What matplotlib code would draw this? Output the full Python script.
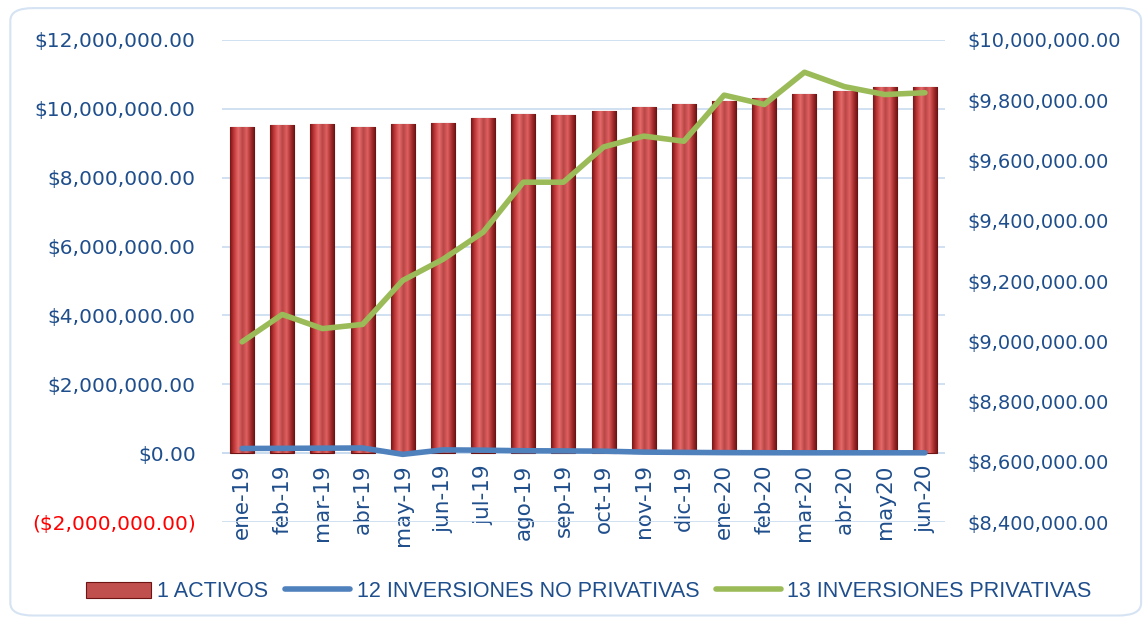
import numpy as np
import matplotlib
matplotlib.use("Agg")
import matplotlib.pyplot as plt
from matplotlib.colors import LinearSegmentedColormap
from matplotlib.patches import FancyBboxPatch
from matplotlib.ticker import FuncFormatter

meses = ['ene-19', 'feb-19', 'mar-19', 'abr-19', 'may-19', 'jun-19', 'jul-19', 'ago-19', 'sep-19',
         'oct-19', 'nov-19', 'dic-19', 'ene-20', 'feb-20', 'mar-20', 'abr-20', 'may20', 'jun-20']

activos = [9460000, 9540000, 9570000, 9480000, 9570000, 9590000, 9730000, 9860000, 9820000,
           9940000, 10060000, 10140000, 10230000, 10310000, 10430000, 10520000, 10640000, 10640000]

no_privativas = [136000, 140000, 145000, 150000, -35000, 95000, 87000, 70000, 65000,
                 58000, 30000, 22000, 15000, 12000, 10000, 10000, 10000, 10000]

privativas = [8998000, 9089000, 9042000, 9056000, 9202000, 9272000, 9362000, 9528000, 9528000,
              9645000, 9681000, 9664000, 9817000, 9786000, 9893000, 9845000, 9819000, 9825000]

txt_color = '#1f4e8c'
grid_color = '#c9dbf0'

plt.rcParams['font.family'] = ['DejaVu Sans']

fig = plt.figure(figsize=(11.48, 6.23), dpi=100)
ax = fig.add_axes([0.1934, 0.1621, 0.6298, 0.7737])
ax2 = ax.twinx()

# rounded chart border
fig.patches.append(FancyBboxPatch((0.009, 0.012), 0.985, 0.975, boxstyle='round,pad=0,rounding_size=0.02',
                                  transform=fig.transFigure, fill=False, edgecolor='#d5e3f3', linewidth=1.5))

x = np.arange(len(meses))
bars = ax.bar(x, activos, width=0.6, color='#c0504d', edgecolor='#6e1414', linewidth=0.8, zorder=2)

# cylinder-like shading on the bars
cmap = LinearSegmentedColormap.from_list('cil', ['#7a1515', '#c43c3c', '#e56a6a', '#b84545',
                                                 '#e06060', '#a93030', '#6a1010'])
grad = np.linspace(0, 1, 64).reshape(1, -1)
for b in bars:
    im = ax.imshow(grad, cmap=cmap, aspect='auto', zorder=2.1,
                   extent=[b.get_x(), b.get_x() + b.get_width(), 0, b.get_height()])
    im.set_clip_path(b)

l_np, = ax.plot(x, no_privativas, color='#4f81bd', linewidth=4, solid_capstyle='round', zorder=3)
l_p, = ax2.plot(x, privativas, color='#9bbb59', linewidth=4, solid_capstyle='round', zorder=3)

ax.set_xlim(-0.5, len(meses) - 0.5)
ax.set_ylim(-2000000, 12000000)
ax2.set_ylim(8400000, 10000000)

left_ticks = np.arange(-2000000, 12000001, 2000000)
right_ticks = np.arange(8400000, 10000001, 200000)
ax.set_yticks(left_ticks)
ax2.set_yticks(right_ticks)

def money(v, pos=None):
    if v < 0:
        return '(${:,.2f})'.format(-v)
    return '${:,.2f}'.format(v)

ax.yaxis.set_major_formatter(FuncFormatter(money))
ax2.yaxis.set_major_formatter(FuncFormatter(money))

ax.grid(axis='y', color=grid_color, linewidth=1.2, zorder=0)
ax.set_axisbelow(True)

for a in (ax, ax2):
    for s in ('left', 'right', 'top', 'bottom'):
        a.spines[s].set_visible(False)

ax.axhline(0, color=grid_color, linewidth=1.2, zorder=1)

# category labels sit just under the zero line
ax.spines['bottom'].set_position(('data', 0))
ax.set_xticks(x)
ax.set_xticklabels(meses)
ax.tick_params(axis='x', length=0, pad=8, labelsize=15.5, labelcolor=txt_color, labelrotation=90)

ax.tick_params(axis='y', length=0, pad=19, labelsize=14.5, labelcolor=txt_color)
ax2.tick_params(axis='y', length=0, pad=16, labelsize=14, labelcolor=txt_color)
ax2.tick_params(axis='x', length=0)

for t, v in zip(ax.get_yticklabels(), left_ticks):
    if v < 0:
        t.set_color('#ff0000')

leg = fig.legend([bars, l_np, l_p], ['1 ACTIVOS', '12 INVERSIONES NO PRIVATIVAS', '13 INVERSIONES PRIVATIVAS'],
                 loc='center', bbox_to_anchor=(0.513, 0.05), ncol=3, frameon=False,
                 handlelength=3.0, handleheight=0.8, columnspacing=0.8, handletextpad=0.3,
                 prop={'family': ['Liberation Sans'], 'size': 15.5})
for t in leg.get_texts():
    t.set_color(txt_color)

fig.savefig('out.png', dpi=100)
